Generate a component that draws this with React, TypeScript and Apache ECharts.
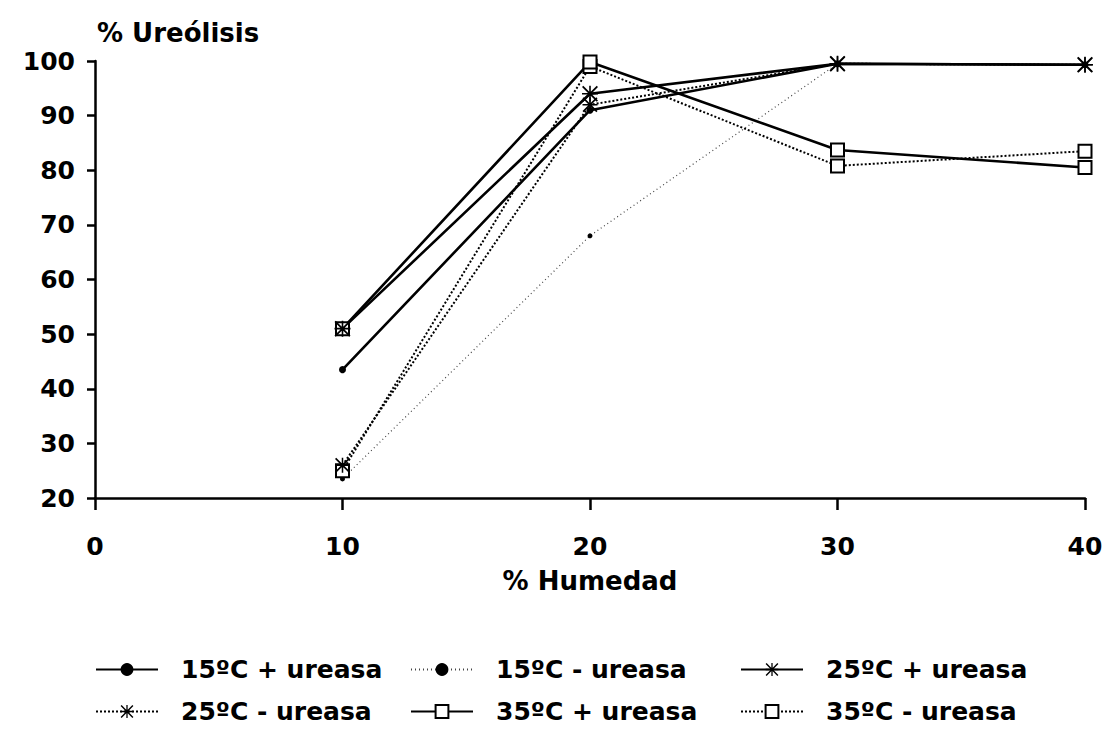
import React, { useEffect, useRef } from "react";
import * as echarts from "echarts";

const humedad = [10, 20, 30, 40];
const yTicks = [20, 30, 40, 50, 60, 70, 80, 90, 100];
const xTicks = [0, 10, 20, 30, 40];

const t15mas = [43.5, 91, 99.5, 99.3];
const t15menos = [23.5, 68, 99.5, 99.3];
const t25mas = [51, 94, 99.5, 99.3];
const t25menos = [26, 92, 99.5, 99.3];
const t35mas = [51, 99.8, 83.7, 80.5];
const t35menos = [25, 99, 80.8, 83.5];

const names = [
  "15ºC + ureasa",
  "15ºC - ureasa",
  "25ºC + ureasa",
  "25ºC - ureasa",
  "35ºC + ureasa",
  "35ºC - ureasa",
];

const ASTERISK =
  "path://M9 0L11 0L11 20L9 20Z M0 9L20 9L20 11L0 11Z M1.6 0L20 18.4L18.4 20L0 1.6Z M18.4 0L20 1.6L1.6 20L0 18.4Z";

const FONT = "DejaVu Sans";
const FS = 25;

function pairs(vals: number[]) {
  return humedad.map((x, i) => [x, vals[i]]);
}

export default function App() {
  const ref = useRef<HTMLDivElement>(null);
  useEffect(() => {
    if (!ref.current) return;
    const chart = echarts.init(ref.current, null, { renderer: "svg" });
    const solid = { color: "#000", width: 2.6, type: "solid" as const };
    const dense = { color: "#000", width: 2, type: [2, 2] as number[] };
    const sparse = { color: "#444", width: 1.2, type: [1, 3] as number[] };
    const legendPos = [
      [95, 665],
      [410, 665],
      [740, 665],
      [95, 707],
      [410, 707],
      [740, 707],
    ];
    const legends = names.map((n, i) => ({
      data: [n],
      left: legendPos[i][0],
      top: legendPos[i][1] - 8,
      padding: 0,
      itemWidth: 62,
      itemHeight: 16,
      textStyle: {
        fontFamily: FONT,
        fontWeight: "bold" as const,
        fontSize: FS,
        color: "#000",
        padding: [0, 0, 0, 18],
      },
    }));
    chart.setOption({
      animation: false,
      backgroundColor: "#fff",
      grid: { left: 95, right: 21, top: 61, bottom: 237, containLabel: false },
      legend: legends,
      graphic: [
        {
          type: "text",
          left: 97,
          top: 20,
          style: {
            text: "% Ureólisis",
            fontFamily: FONT,
            fontWeight: "bold",
            fontSize: 26,
            fill: "#000",
          },
        },
      ],
      xAxis: {
        type: "value",
        min: xTicks[0],
        max: xTicks[xTicks.length - 1],
        interval: 10,
        name: "% Humedad",
        nameLocation: "middle",
        nameGap: 70,
        nameTextStyle: {
          fontFamily: FONT,
          fontWeight: "bold",
          fontSize: 26,
          color: "#000",
        },
        axisLine: { show: true, onZero: false, lineStyle: { color: "#000", width: 2.5 } },
        axisTick: { show: true, length: 12, lineStyle: { color: "#000", width: 2.5 } },
        axisLabel: {
          margin: 36,
          fontFamily: FONT,
          fontWeight: "bold",
          fontSize: FS,
          color: "#000",
        },
        splitLine: { show: false },
      },
      yAxis: {
        type: "value",
        min: yTicks[0],
        max: yTicks[yTicks.length - 1],
        interval: 10,
        axisLine: { show: true, onZero: false, lineStyle: { color: "#000", width: 2.5 } },
        axisTick: { show: true, length: 8, lineStyle: { color: "#000", width: 2.5 } },
        axisLabel: {
          margin: 20,
          fontFamily: FONT,
          fontWeight: "bold",
          fontSize: FS,
          color: "#000",
        },
        splitLine: { show: false },
      },
      series: [
        {
          name: names[1],
          type: "line",
          data: pairs(t15menos),
          symbol: "circle",
          symbolSize: 5,
          lineStyle: sparse,
          itemStyle: { color: "#000" },
        },
        {
          name: names[0],
          type: "line",
          data: pairs(t15mas),
          symbol: "circle",
          symbolSize: 7,
          lineStyle: solid,
          itemStyle: { color: "#000" },
        },
        {
          name: names[5],
          type: "line",
          data: pairs(t35menos),
          symbol: "emptyRect",
          symbolSize: 13,
          lineStyle: dense,
          itemStyle: { color: "#000", borderColor: "#000", borderWidth: 2.5 },
        },
        {
          name: names[3],
          type: "line",
          data: pairs(t25menos),
          symbol: ASTERISK,
          symbolSize: 15,
          lineStyle: dense,
          itemStyle: { color: "#000" },
        },
        {
          name: names[4],
          type: "line",
          data: pairs(t35mas),
          symbol: "emptyRect",
          symbolSize: 13,
          lineStyle: solid,
          itemStyle: { color: "#000", borderColor: "#000", borderWidth: 2.5 },
        },
        {
          name: names[2],
          type: "line",
          data: pairs(t25mas),
          symbol: ASTERISK,
          symbolSize: 16,
          lineStyle: solid,
          itemStyle: { color: "#000" },
        },
      ],
    });
    return () => chart.dispose();
  }, []);
  return (
    <div
      ref={ref}
      style={{ position: "fixed", left: 0, top: 0, width: 1106, height: 735, background: "#fff" }}
    />
  );
}
